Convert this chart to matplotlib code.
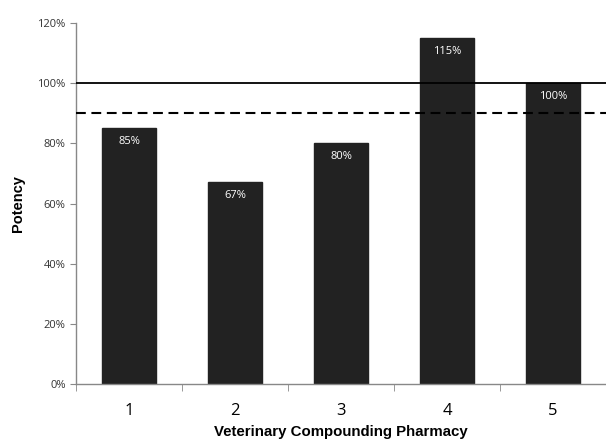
import matplotlib
matplotlib.use("Agg")
import matplotlib.pyplot as plt
from matplotlib.ticker import FixedLocator, PercentFormatter

categories = ["1", "2", "3", "4", "5"]
potency = [85, 67, 80, 115, 100]
labels = ["85%", "67%", "80%", "115%", "100%"]
ref_solid = 100
ref_dashed = 90
yticks = [0, 20, 40, 60, 80, 100, 120]

fig = plt.figure(figsize=(6.06, 4.43), dpi=100)
ax = fig.add_axes([0.1254, 0.1332, 0.8746, 0.8148])

x = list(range(len(categories)))
ax.bar(x, potency, width=0.51, color="#222222", edgecolor="#222222", zorder=2)
for xi, v, lab in zip(x, potency, labels):
    ax.text(xi, v - 2.5, lab, ha="center", va="top", color="white",
            fontsize=8, family="Open Sans", zorder=4)

ax.axhline(ref_solid, color="black", lw=1.3, zorder=3)
ax.axhline(ref_dashed, color="black", lw=1.5, ls=(0, (4.7, 2.7)), zorder=3)

ax.set_xlim(-0.5, len(categories) - 0.5)
ax.set_ylim(0, 120)
ax.set_yticks(yticks)
ax.yaxis.set_major_formatter(PercentFormatter(decimals=0))
ax.set_xticks(x)
ax.set_xticklabels(categories, fontsize=12, family="Open Sans")
ax.tick_params(axis="x", which="major", length=0, pad=14)
ax.xaxis.set_minor_locator(FixedLocator([i - 0.5 for i in range(len(categories) + 1)]))
ax.tick_params(axis="x", which="minor", length=5, color="#888888", direction="out")
ax.tick_params(axis="y", length=4, color="#888888", labelsize=8, labelcolor="#333333")
for t in ax.get_yticklabels():
    t.set_family("Open Sans")

for s in ["top", "right"]:
    ax.spines[s].set_visible(False)
for s in ["left", "bottom"]:
    ax.spines[s].set_color("#888888")
    ax.spines[s].set_linewidth(1.0)

ax.set_xlabel("Veterinary Compounding Pharmacy", fontsize=10.8, fontweight="bold",
              family="Liberation Sans", labelpad=4)
ax.set_ylabel("Potency", fontsize=10.5, fontweight="bold", family="Liberation Sans", labelpad=9)

fig.savefig("out.png", dpi=100)
